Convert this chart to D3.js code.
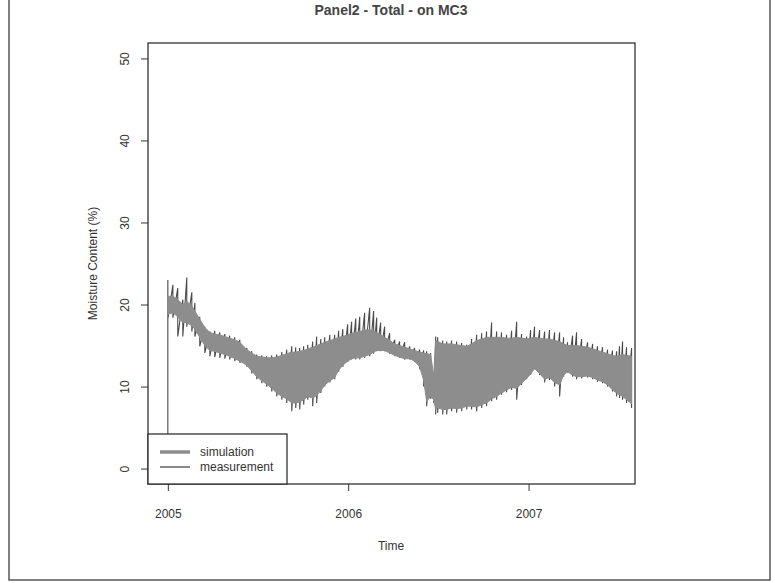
<!DOCTYPE html>
<html>
<head>
<meta charset="utf-8">
<script src="https://cdn.jsdelivr.net/npm/d3@7"></script>
<style>
  html, body { margin: 0; padding: 0; background: #ffffff; }
  svg { display: block; font-family: "Liberation Sans", Arial, sans-serif; }
</style>
</head>
<body>
<svg id="chart" width="775" height="583"></svg>
<script>
// ---- data ----
const titleText = "Panel2 - Total - on MC3";
const xLabel = "Time";
const yLabel = "Moisture Content (%)";
const seriesNames = ["simulation", "measurement"];
const xTicks = [2005, 2006, 2007];
const xTickLabels = ["2005", "2006", "2007"];
const yTicks = [0, 10, 20, 30, 40, 50];
const yTickLabels = ["0", "10", "20", "30", "40", "50"];

const times = [
  2005.000, 2005.028, 2005.055, 2005.083, 2005.105, 2005.133, 2005.150, 2005.177, 2005.205, 2005.233,
  2005.260, 2005.288, 2005.316, 2005.343, 2005.371, 2005.399, 2005.438, 2005.465, 2005.493, 2005.521,
  2005.548, 2005.576, 2005.604, 2005.632, 2005.659, 2005.687, 2005.709, 2005.731, 2005.753, 2005.776,
  2005.803, 2005.825, 2005.848, 2005.870, 2005.898, 2005.925, 2005.947, 2005.970, 2005.997, 2006.019,
  2006.042, 2006.064, 2006.091, 2006.119, 2006.141, 2006.158, 2006.180, 2006.202, 2006.230, 2006.258,
  2006.285, 2006.313, 2006.341, 2006.368, 2006.396, 2006.418, 2006.435, 2006.457, 2006.474, 2006.485,
  2006.496, 2006.524, 2006.546, 2006.573, 2006.601, 2006.629, 2006.657, 2006.684, 2006.712, 2006.740,
  2006.767, 2006.795, 2006.823, 2006.850, 2006.878, 2006.906, 2006.934, 2006.961, 2006.989, 2007.011,
  2007.033, 2007.061, 2007.089, 2007.116, 2007.144, 2007.172, 2007.194, 2007.216, 2007.244, 2007.266,
  2007.294, 2007.327, 2007.355, 2007.382, 2007.410, 2007.438, 2007.465, 2007.488, 2007.504, 2007.521,
  2007.543, 2007.571
];

// measurement: upper and lower extremes of the daily swing
const measHigh = [
  23.0, 22.4, 22.0, 20.6, 23.3, 21.5, 20.2, 18.5, 17.3, 16.7,
  16.8, 16.6, 16.4, 16.2, 16.0, 15.7, 14.7, 14.3, 13.9, 13.8,
  13.7, 13.8, 13.9, 14.2, 14.5, 14.9, 14.8, 14.7, 14.9, 15.1,
  15.5, 16.1, 15.8, 16.0, 16.3, 16.3, 16.8, 17.0, 17.6, 17.9,
  18.3, 18.5, 19.0, 19.6, 19.2, 18.4, 17.8, 17.3, 16.5, 15.7,
  15.5, 15.4, 14.9, 14.7, 14.5, 14.4, 14.3, 14.1, 11.5, 16.1,
  16.0, 15.6, 15.5, 15.6, 15.5, 15.3, 15.1, 15.8, 16.3, 16.5,
  16.7, 17.8, 16.7, 16.6, 16.3, 16.8, 17.9, 16.4, 16.1, 16.9,
  17.3, 16.9, 16.7, 16.9, 16.6, 16.6, 16.0, 15.4, 16.2, 16.6,
  15.8, 15.4, 15.2, 14.9, 14.8, 14.5, 14.4, 14.3, 14.9, 15.5,
  14.8, 14.7
];
const measLow = [
  18.2, 18.4, 16.1, 16.1, 17.3, 16.7, 16.1, 14.9, 14.1, 13.7,
  13.6, 13.5, 13.4, 13.3, 13.1, 12.9, 12.4, 11.6, 10.9, 10.4,
  10.0, 9.4, 8.8, 8.4, 8.0, 7.0, 7.4, 7.2, 7.8, 8.4,
  7.6, 8.0, 9.2, 10.0, 10.5, 10.9, 11.8, 12.4, 13.0, 13.3,
  13.3, 13.3, 13.5, 13.7, 14.0, 14.3, 14.3, 14.3, 14.0, 13.7,
  13.5, 13.3, 13.3, 13.0, 12.1, 10.0, 7.6, 8.5, 8.0, 6.6,
  6.8, 6.6, 6.6, 7.0, 6.8, 7.0, 7.2, 7.2, 7.0, 7.4,
  7.6, 8.2, 8.4, 9.0, 9.3, 9.6, 8.4, 10.2, 10.9, 11.4,
  12.1, 11.4, 10.5, 10.8, 10.0, 8.8, 11.2, 11.7, 11.2, 10.9,
  11.0, 11.1, 10.9, 10.6, 10.4, 10.0, 9.4, 8.8, 8.6, 8.4,
  8.0, 7.4
];

// simulation: band covered by the daily swing of the simulated series
const simHigh = [
  21.0, 21.0, 20.6, 20.0, 20.4, 19.8, 19.2, 18.2, 17.2, 16.6,
  16.4, 16.3, 16.1, 15.9, 15.7, 15.4, 14.5, 14.1, 13.7, 13.6,
  13.5, 13.5, 13.6, 13.8, 14.0, 14.2, 14.2, 14.3, 14.4, 14.6,
  14.8, 15.0, 15.2, 15.4, 15.6, 15.8, 16.0, 16.1, 16.3, 16.5,
  16.6, 16.7, 16.9, 16.9, 16.8, 16.6, 16.3, 16.0, 15.6, 15.2,
  15.0, 14.8, 14.6, 14.4, 14.2, 14.1, 14.0, 13.9, 11.3, 15.6,
  15.5, 15.2, 15.2, 15.2, 15.1, 15.0, 14.9, 15.2, 15.6, 15.8,
  16.0, 16.0, 16.0, 16.0, 15.9, 15.9, 16.0, 15.9, 15.8, 15.9,
  16.0, 15.9, 15.8, 15.8, 15.6, 15.5, 15.2, 15.0, 15.0, 15.0,
  14.9, 14.8, 14.6, 14.4, 14.2, 14.0, 13.8, 13.7, 13.8, 13.9,
  13.8, 13.7
];
const simLow = [
  18.8, 19.0, 18.5, 17.8, 17.8, 17.4, 17.0, 16.0, 15.0, 14.4,
  14.3, 14.1, 13.9, 13.7, 13.4, 13.1, 12.6, 11.9, 11.2, 10.7,
  10.3, 9.8, 9.2, 8.8, 8.5, 8.0, 8.0, 8.1, 8.4, 8.8,
  8.6, 8.9, 9.5, 10.2, 10.7, 11.1, 12.0, 12.6, 13.1, 13.4,
  13.5, 13.5, 13.7, 13.9, 14.2, 14.4, 14.4, 14.4, 14.1, 13.8,
  13.6, 13.4, 13.4, 13.1, 12.4, 10.8, 8.2, 8.8, 8.4, 7.2,
  7.4, 7.2, 7.2, 7.4, 7.3, 7.4, 7.6, 7.6, 7.5, 7.8,
  8.0, 8.5, 8.8, 9.2, 9.6, 9.9, 9.8, 10.4, 11.0, 11.5,
  12.2, 11.6, 10.9, 11.1, 10.5, 10.2, 11.4, 11.8, 11.4, 11.2,
  11.2, 11.3, 11.1, 10.8, 10.6, 10.2, 9.6, 9.2, 9.0, 8.8,
  8.4, 7.9
];
const measStartValue = 0;   // measurement line rises from 0 at the first time stamp

// ---- layout ----
const svg = d3.select("#chart");
const box = { left: 148, right: 635, top: 43, bottom: 484 };
const textColor = "#333333";

const x = d3.scaleLinear().domain([2004.89, 2007.59]).range([box.left, box.right]);
const y = d3.scaleLinear().domain([-2, 52]).range([485, 42]);

// outer (scanned page) frame
svg.append("path")
  .attr("d", "M9,0 V580 H770 V0")
  .attr("fill", "none").attr("stroke", "#555").attr("stroke-width", 1.5);

// title
svg.append("text")
  .attr("x", 391).attr("y", 15)
  .attr("text-anchor", "middle")
  .attr("font-size", 14).attr("font-weight", "bold")
  .attr("fill", "#444")
  .text(titleText);

// clip for data
svg.append("clipPath").attr("id", "clip")
  .append("rect")
  .attr("x", box.left).attr("y", box.top)
  .attr("width", box.right - box.left).attr("height", box.bottom - box.top);

const dataG = svg.append("g").attr("clip-path", "url(#clip)");

// measurement: zig-zag through the read extremes
const measPts = [[times[0], measStartValue]];
times.forEach((t, i) => { measPts.push([t, measHigh[i]]); measPts.push([t, measLow[i]]); });
dataG.append("path")
  .attr("d", d3.line().x(d => x(d[0])).y(d => y(d[1]))(measPts))
  .attr("fill", "none").attr("stroke", "#4a4a4a").attr("stroke-width", 1.1);

// simulation band
const simData = times.map((t, i) => ({ t, hi: simHigh[i], lo: simLow[i] }));
dataG.append("path")
  .attr("d", d3.area().x(d => x(d.t)).y0(d => y(d.lo)).y1(d => y(d.hi))(simData))
  .attr("fill", "#8d8d8d").attr("stroke", "#8d8d8d").attr("stroke-width", 1);

// plot box
svg.append("rect")
  .attr("x", box.left).attr("y", box.top)
  .attr("width", box.right - box.left).attr("height", box.bottom - box.top)
  .attr("fill", "none").attr("stroke", "#222").attr("stroke-width", 1.2);

// x axis
const xAxis = d3.axisBottom(x).tickValues(xTicks)
  .tickFormat((d, i) => xTickLabels[i]).tickSize(7).tickPadding(18);
const gx = svg.append("g").attr("transform", `translate(0,${box.bottom})`).call(xAxis);
gx.select(".domain").remove();
gx.selectAll("line").attr("stroke", "#333");
gx.selectAll("text").attr("font-size", 12).attr("fill", textColor)
  .attr("font-family", "Liberation Sans, Arial, sans-serif");

// y axis
const yAxis = d3.axisLeft(y).tickValues(yTicks)
  .tickFormat((d, i) => yTickLabels[i]).tickSize(7);
const gy = svg.append("g").attr("transform", `translate(${box.left},0)`).call(yAxis);
gy.select(".domain").remove();
gy.selectAll("line").attr("stroke", "#333");
gy.selectAll("text")
  .attr("font-size", 12).attr("fill", textColor)
  .attr("font-family", "Liberation Sans, Arial, sans-serif")
  .attr("x", null).attr("dy", null)
  .attr("text-anchor", "middle")
  .attr("transform", "translate(-19,0) rotate(-90)")
  .attr("y", 0);

// axis titles
svg.append("text")
  .attr("x", 391).attr("y", 550)
  .attr("text-anchor", "middle").attr("font-size", 12).attr("fill", textColor)
  .text(xLabel);
svg.append("text")
  .attr("transform", `translate(97,${(box.top + box.bottom) / 2}) rotate(-90)`)
  .attr("text-anchor", "middle").attr("font-size", 12).attr("fill", textColor)
  .text(yLabel);

// legend
const lg = svg.append("g");
lg.append("rect")
  .attr("x", box.left).attr("y", 434)
  .attr("width", 139).attr("height", box.bottom - 434)
  .attr("fill", "#fff").attr("stroke", "#222").attr("stroke-width", 1.2);
const legendStyles = [
  { color: "#8d8d8d", width: 3.5, y: 452 },
  { color: "#4a4a4a", width: 1.3, y: 467 }
];
seriesNames.forEach((name, i) => {
  const s = legendStyles[i];
  lg.append("line")
    .attr("x1", 160).attr("x2", 190).attr("y1", s.y).attr("y2", s.y)
    .attr("stroke", s.color).attr("stroke-width", s.width);
  lg.append("text")
    .attr("x", 200).attr("y", s.y + 4)
    .attr("font-size", 12).attr("fill", textColor)
    .text(name);
});
</script>
</body>
</html>
